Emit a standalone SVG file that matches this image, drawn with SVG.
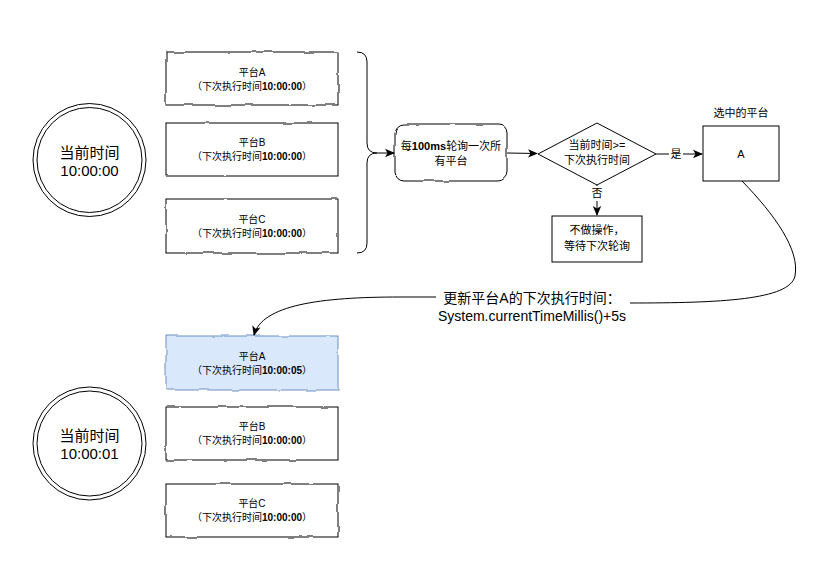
<svg xmlns="http://www.w3.org/2000/svg" width="833" height="568" viewBox="0 0 833 568">
<style>
text{font-family:"Liberation Sans","Noto Sans CJK SC",sans-serif;fill:#000;text-anchor:middle;dominant-baseline:central}
.s10{font-size:10px}.s11{font-size:11px}.s14{font-size:14px}.s15{font-size:15px}
.box{fill:#fff;stroke:#000;stroke-width:1}
.sel{fill:#dae8fc;stroke:#6c8ebf;stroke-width:1}
.ln{fill:none;stroke:#000;stroke-width:1}
.b{font-weight:bold}
.lbl{fill:#fff;stroke:none}
</style>
<defs>
<filter id="rough" x="-5%" y="-10%" width="110%" height="120%">
<feTurbulence type="fractalNoise" baseFrequency="0.05" numOctaves="2" seed="4" result="n"/>
<feDisplacementMap in="SourceGraphic" in2="n" scale="3" xChannelSelector="R" yChannelSelector="G"/>
</filter>
<marker id="arr" viewBox="0 0 10 10" refX="9" refY="5" markerWidth="10" markerHeight="10" markerUnits="userSpaceOnUse" orient="auto">
<path d="M0,0.8 L10,5 L0,9.2 L2.5,5 Z" fill="#000"/>
</marker>
</defs>
<rect width="833" height="568" fill="#fff"/>

<g id="clock1">
<circle cx="89.5" cy="160" r="56.5" class="box"/>
<circle cx="89.5" cy="160" r="52.5" class="box"/>
<text x="89.5" y="152" class="s15">当前时间</text>
<text x="89.5" y="170" class="s15">10:00:00</text>
</g>
<g id="pA1">
<rect x="166" y="52" width="172" height="53" class="box" filter="url(#rough)"/>
<text x="252" y="72" class="s10">平台A</text>
<text x="252" y="86" class="s10">（下次执行时间<tspan class="b">10:00:00</tspan>）</text>
</g>
<g id="pB1">
<rect x="166" y="123" width="172" height="53" class="box" filter="url(#rough)"/>
<text x="252" y="142" class="s10">平台B</text>
<text x="252" y="156" class="s10">（下次执行时间<tspan class="b">10:00:00</tspan>）</text>
</g>
<g id="pC1">
<rect x="166" y="199" width="172" height="54" class="box" filter="url(#rough)"/>
<text x="252" y="219" class="s10">平台C</text>
<text x="252" y="233" class="s10">（下次执行时间<tspan class="b">10:00:00</tspan>）</text>
</g>
<g id="brace">
<path d="M357,52 Q367,52 367,62 L367,143 Q367,153 377,153 Q367,153 367,163 L367,243 Q367,253 357,253" class="ln"/>
</g>
<g id="poll">
<rect x="395" y="124" width="112" height="57" rx="9" class="box" filter="url(#rough)"/>
<text x="451" y="146" class="s11">每<tspan class="b">100ms</tspan>轮询一次所</text>
<text x="451" y="161" class="s11">有平台</text>
</g>
<g id="decide">
<path d="M597,123 L656,154 L597,185 L538,154 Z" class="box"/>
<text x="597" y="145" class="s11">当前时间&gt;=</text>
<text x="597" y="160" class="s11">下次执行时间</text>
</g>
<g id="noop">
<rect x="552" y="216" width="90" height="46" class="box"/>
<text x="597" y="230" class="s11">不做操作，</text>
<text x="597" y="246" class="s11">等待下次轮询</text>
</g>
<g id="selected">
<text x="741" y="113" class="s11">选中的平台</text>
<rect x="703" y="126" width="76" height="55" class="box"/>
<text x="741" y="154" class="s11">A</text>
</g>

<g id="clock2">
<circle cx="89.5" cy="443.5" r="56.5" class="box"/>
<circle cx="89.5" cy="443.5" r="52.5" class="box"/>
<text x="89.5" y="435" class="s15">当前时间</text>
<text x="89.5" y="453" class="s15">10:00:01</text>
</g>
<g id="pA2">
<rect x="166" y="336" width="172" height="54" class="sel" filter="url(#rough)"/>
<text x="252" y="356" class="s10">平台A</text>
<text x="252" y="370" class="s10">（下次执行时间<tspan class="b">10:00:05</tspan>）</text>
</g>
<g id="pB2">
<rect x="166" y="407" width="172" height="53" class="box" filter="url(#rough)"/>
<text x="252" y="426" class="s10">平台B</text>
<text x="252" y="440" class="s10">（下次执行时间<tspan class="b">10:00:00</tspan>）</text>
</g>
<g id="pC2">
<rect x="166" y="484" width="172" height="53" class="box" filter="url(#rough)"/>
<text x="252" y="503" class="s10">平台C</text>
<text x="252" y="517" class="s10">（下次执行时间<tspan class="b">10:00:00</tspan>）</text>
</g>

<g id="connectors">
<path d="M377,153 L394,153" class="ln" marker-end="url(#arr)"/>
<path d="M507,153 L537,153.5" class="ln" marker-end="url(#arr)"/>
<path d="M656,154 L702,154" class="ln" marker-end="url(#arr)"/>
<rect x="669" y="146" width="14" height="15" class="lbl"/>
<text x="676" y="154" class="s11">是</text>
<path d="M597,185 L597,215" class="ln" marker-end="url(#arr)"/>
<rect x="590" y="186" width="14" height="15" class="lbl"/>
<text x="597" y="193" class="s11">否</text>
<path d="M742,181 C775,215 800,250 795,276 C790,300 720,303 630,303" class="ln"/>
<path d="M436,297 L400,297 C320,297 262,305 254,335" class="ln" marker-end="url(#arr)"/>
<text x="532" y="298" class="s14">更新平台A的下次执行时间：</text>
<text x="532" y="316" class="s14">System.currentTimeMillis()+5s</text>
</g>
</svg>
